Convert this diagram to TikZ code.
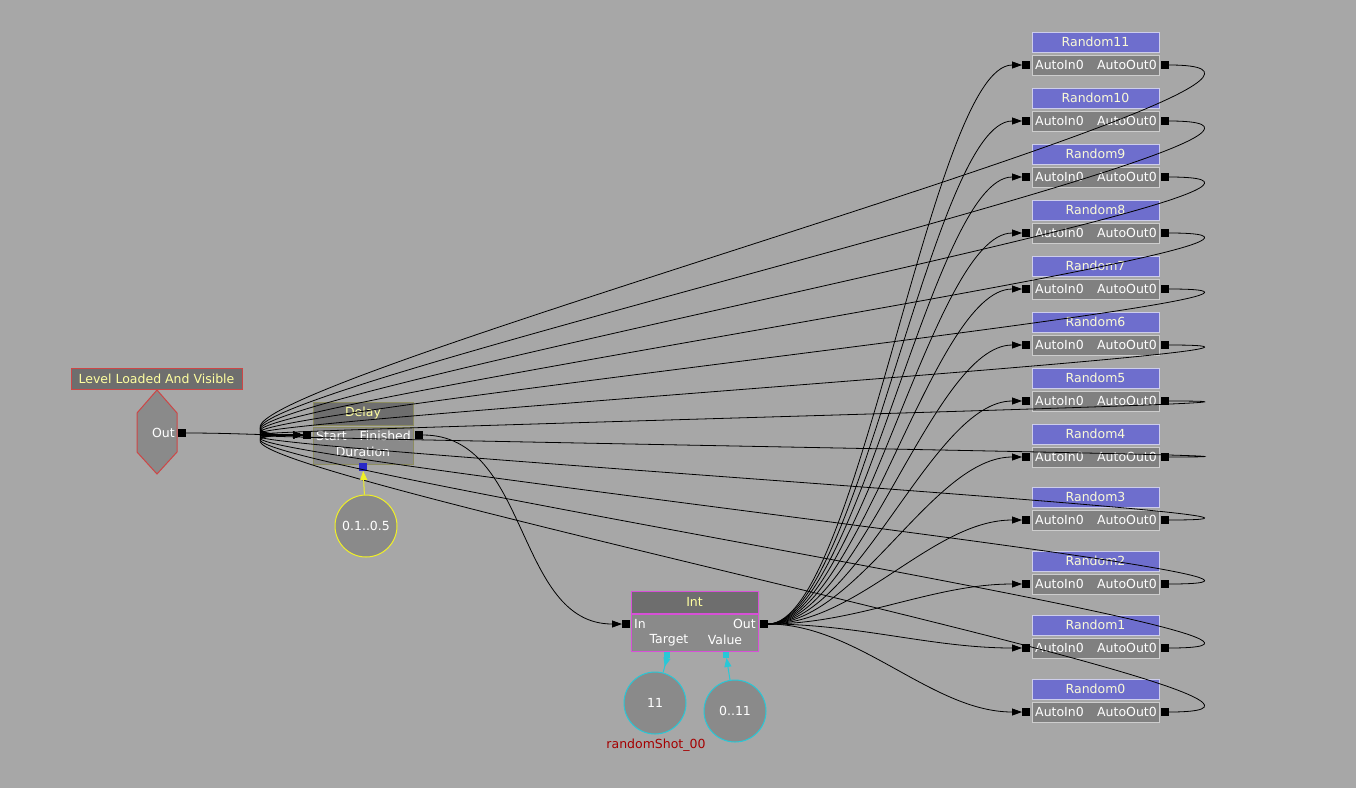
\documentclass[tikz,border=0pt]{standalone}
\usepackage{fontspec}
\setmainfont{DejaVu Sans}
\usepackage{tikz}
\usetikzlibrary{arrows.meta,shapes,positioning}
\definecolor{fondo}{RGB}{167,167,167}
\definecolor{grisTitulo}{RGB}{110,110,110}
\definecolor{grisCuerpo}{RGB}{138,138,138}
\definecolor{grisRnd}{RGB}{128,128,128}
\definecolor{amarilloTxt}{RGB}{255,255,160}
\definecolor{rojoBorde}{RGB}{205,70,70}
\definecolor{oliva}{RGB}{140,140,95}
\definecolor{magenta}{RGB}{215,80,215}
\definecolor{azulRnd}{RGB}{110,110,205}
\definecolor{bordeRnd}{RGB}{205,205,235}
\definecolor{cian}{RGB}{40,200,215}
\definecolor{amarillo}{RGB}{240,240,40}
\definecolor{azulPuerto}{RGB}{40,40,200}
\definecolor{rojoOscuro}{RGB}{165,0,0}
\tikzstyle{txt}     =[font=\fontsize{12.5}{14}\selectfont, inner sep=0pt]
\tikzstyle{title}   =[rectangle, draw, fill=grisTitulo, text=amarilloTxt,
                      font=\fontsize{12.5}{14}\selectfont, inner sep=0pt,
                      line width=1pt]
\tikzstyle{body}    =[rectangle, draw, fill=grisCuerpo, inner sep=0pt,
                      line width=1pt]
\tikzstyle{port}    =[rectangle, fill=black, minimum size=8pt,
                      inner sep=0pt, outer sep=0pt]
\tikzstyle{vcircle} =[circle, draw, fill=grisCuerpo, minimum size=62pt,
                      line width=1pt, text=white, inner sep=0pt,
                      font=\fontsize{12.5}{14}\selectfont]
\tikzstyle{wire}    =[black, line width=0.8pt,
                      -{Triangle[length=10pt,width=7pt]}]
\tikzstyle{rtitle}  =[rectangle, draw=bordeRnd, fill=azulRnd,
                      text={rgb,255:red,250;green,250;blue,215},
                      minimum width=127pt, minimum height=20pt,
                      inner sep=0pt, line width=1pt,
                      font=\fontsize{12.5}{14}\selectfont]
\tikzstyle{rbody}   =[rectangle, draw={rgb,255:red,205;green,205;blue,205},
                      fill=grisRnd, minimum width=127pt, minimum height=20pt,
                      inner sep=0pt, line width=1pt]
\begin{document}
\begin{tikzpicture}[x=1pt,y=-1pt]
    \fill[fondo] (0,0) rectangle (1356,788);
    \useasboundingbox (0,0) rectangle (1356,788);

    % evento
    \node[title, draw=rojoBorde, minimum width=171pt, minimum height=21pt]
        (lvl) at (156.5,378.5) {Level Loaded And Visible};
    \draw[rojoBorde, fill=grisCuerpo, line width=1pt]
        (137,413) -- (157,390) -- (177,413) -- (177,452) -- (157,474)
        -- (137,452) -- cycle;
    \node[txt, text=white, anchor=east] (lvlt) at (175,433) {Out};
    \node[port] (lvlout) at (182,433) {};

    % delay
    \node[title, draw=oliva, minimum width=100pt, minimum height=23pt]
        (dly) at (363,413.5) {Delay};
    \node[body, draw=oliva, minimum width=100pt, minimum height=37pt]
        (dlyb) at (363,445.5) {};
    \node[txt, text=white, anchor=west] (dst) at (316,436) {Start};
    \node[txt, text=white, anchor=east] (dfi) at (411,436) {Finished};
    \node[txt, text=white] (ddu) at (363,452) {Duration};
    \node[port] (dstart) at (307,435) {};
    \node[port] (dfin) at (419,435) {};
    \node[port, fill=azulPuerto] (ddur) at (363,467) {};
    \node[vcircle, draw=amarillo] (vdur) at (366,526) {0.1..0.5};

    % int
    \node[title, draw=magenta, minimum width=127pt, minimum height=22pt]
        (int) at (694.5,602) {Int};
    \node[body, draw=magenta, minimum width=127pt, minimum height=37pt]
        (intb) at (694.5,632.5) {};
    \node[txt, text=white, anchor=west] (iin) at (634,624) {In};
    \node[txt, text=white, anchor=east] (iout) at (756,624) {Out};
    \node[txt, text=white] (itg) at (669,640) {Target};
    \node[txt, text=white] (ivl) at (725,640) {Value};
    \node[port] (intin) at (626,624) {};
    \node[port] (intout) at (764,624) {};
    \node[port, fill=cian, minimum size=6pt] (itgp) at (667,655) {};
    \node[port, fill=cian, minimum size=6pt] (ivlp) at (726,655) {};
    \node[vcircle, draw=cian] (v11) at (655,703) {11};
    \node[vcircle, draw=cian] (vrng) at (735,711) {0..11};
    \node[txt, text=rojoOscuro] (vname) at (656,745) {randomShot\_00};

    % random
    \foreach \i/\y in {11/65,10/121,9/177,8/233,7/289,6/345,5/401,4/457,
                       3/520,2/584,1/648,0/712} {
        \node[rtitle] (rt\i) at (1095.5,\y-23) {Random\i};
        \node[rbody] (rb\i) at (1095.5,\y) {};
        \node[txt, text=white, anchor=west] (ai\i) at (1035,\y) {AutoIn0};
        \node[txt, text=white, anchor=east] (ao\i) at (1157,\y) {AutoOut0};
        \node[port] (in\i) at (1026,\y) {};
        \node[port] (out\i) at (1165,\y) {};
    }

    \draw[wire] (lvlout.east) to[out=0,in=180] (dstart.west);
    \draw[wire] (dfin.east) to[out=0,in=180] (intin.west);
    \foreach \i in {0,...,11} {
        \draw[wire] (intout.east) .. controls +(90,0) and +(-90,0) .. (in\i.west);
        \draw[wire] (out\i.east) .. controls +(275,0) and +(-275,0) .. (dstart.west);
    }

    \draw[amarillo, line width=1pt, -{Triangle[length=9pt,width=7pt]}]
        (vdur) -- (ddur);
    \draw[cian, line width=1pt, -{Triangle[reversed,length=9pt,width=7pt]}]
        (v11) -- (itgp.south);
    \draw[cian, line width=1pt, -{Triangle[length=9pt,width=7pt]}]
        (vrng) -- (ivlp);
\end{tikzpicture}
\end{document}
